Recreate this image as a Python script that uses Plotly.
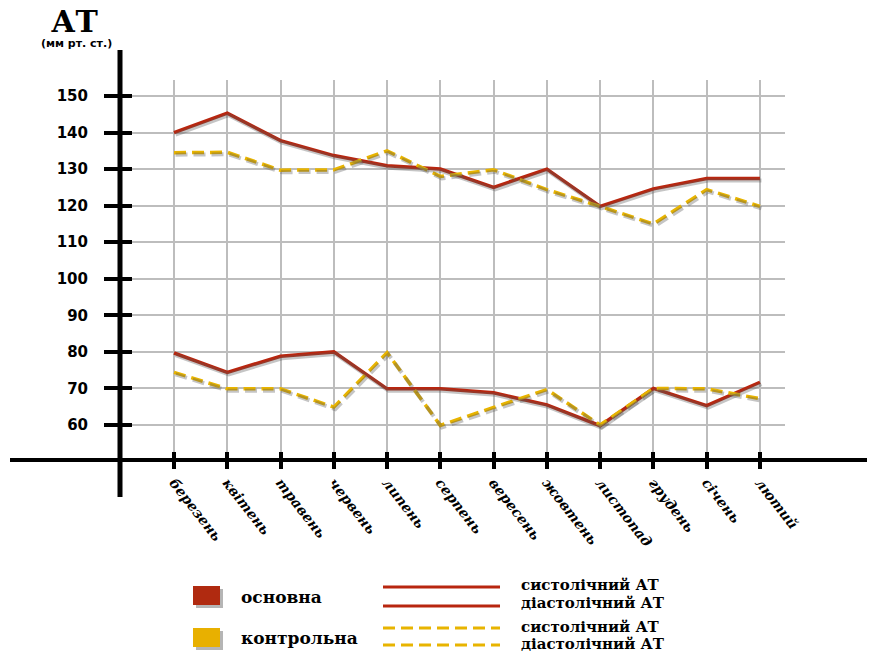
import plotly.graph_objects as go

months = ["березень", "квітень", "травень", "червень", "липень", "серпень",
          "вересень", "жовтень", "листопад", "грудень", "січень", "лютий"]
sys_main = [140, 145.3, 137.8, 133.7, 130.9, 130, 125, 130, 119.8, 124.6, 127.4, 127.4]
sys_ctrl = [134.5, 134.6, 129.7, 129.8, 135, 128, 129.8, 124.4, 119.8, 115, 124.4, 119.8]
dia_main = [79.7, 74.4, 78.8, 80, 69.9, 69.9, 68.8, 65.5, 59.8, 70, 65.3, 71.7]
dia_ctrl = [74.4, 69.9, 69.9, 64.9, 79.8, 59.9, 64.8, 69.7, 60, 70, 69.9, 67.2]
y_ticks = [60, 70, 80, 90, 100, 110, 120, 130, 140, 150]

RED = "#B8260F"
YEL = "#E8B400"
SERIF = "DejaVu Serif"

OFF = 8  # page body margin
W, H = 875 - OFF, 653 - OFF
L, R, T = 120 - OFF, 90, 80 - OFF
B = H - (460 - OFF)
PW, PH = W - L - R, H - T - B


def px(x):
    return (x - 120) / PW


def py(y):
    return (460 - y) / PH


XR = [-1.014, 11.47]
YR = [50.43, 154.37]
# shadow axes: shifted ~1.5 px right and ~2 px down
XR_SH = [XR[0] - 0.028, XR[1] - 0.028]
YR_SH = [YR[0] + 0.55, YR[1] + 0.55]

series = [(sys_main, RED, "solid"), (dia_main, RED, "solid"),
          (sys_ctrl, YEL, "12px,6px"), (dia_ctrl, YEL, "12px,6px")]

fig = go.Figure()
for vals, col, dash in series:
    fig.add_trace(go.Scatter(x=list(range(len(months))), y=vals, mode="lines",
                             xaxis="x3", yaxis="y3",
                             line=dict(color="rgba(90,90,90,0.35)", width=4, dash=dash),
                             showlegend=False, hoverinfo="skip"))
for vals, col, dash in series:
    fig.add_trace(go.Scatter(x=months, y=vals, mode="lines",
                             line=dict(color=col, width=3.5, dash=dash),
                             showlegend=False, hoverinfo="skip"))
fig.add_trace(go.Scatter(x=[], y=[], xaxis="x2", yaxis="y2", showlegend=False))

hidden = dict(showticklabels=False, showgrid=False, zeroline=False, showline=False, ticks="")

fig.update_layout(
    width=W, height=H,
    margin=dict(l=L, r=R, t=T, b=B),
    paper_bgcolor="white", plot_bgcolor="white",
    showlegend=False,
    xaxis=dict(type="category", categoryarray=months, range=XR,
               showgrid=True, gridcolor="#BDBDBD", gridwidth=1.5,
               ticks="outside", ticklen=8, tickwidth=4, tickcolor="black",
               showline=False, zeroline=False, tickangle=52,
               tickfont=dict(family=SERIF, size=14, color="black",
                             weight="bold", style="italic")),
    xaxis2=dict(overlaying="x", anchor="y2", range=XR, type="linear",
                tickmode="array", tickvals=list(range(len(months))),
                ticks="inside", ticklen=8, tickwidth=4, tickcolor="black",
                showticklabels=False, showgrid=False, zeroline=False, showline=False),
    xaxis3=dict(overlaying="x", anchor="y3", range=XR_SH, type="linear", **hidden),
    yaxis=dict(range=YR, tickmode="array", tickvals=y_ticks,
               showgrid=True, gridcolor="#BDBDBD", gridwidth=1.5,
               ticks="outside", ticklen=15, tickwidth=4, tickcolor="black",
               showline=False, zeroline=False, ticklabelstandoff=13,
               tickfont=dict(family="DejaVu Sans", size=15, color="black", weight="bold")),
    yaxis2=dict(overlaying="y", anchor="x2", range=YR, tickmode="array", tickvals=y_ticks,
                ticks="inside", ticklen=12, tickwidth=4, tickcolor="black",
                showticklabels=False, showgrid=False, zeroline=False, showline=False),
    yaxis3=dict(overlaying="y", anchor="x3", range=YR_SH, **hidden),
)

shapes = [
    dict(type="line", xref="paper", yref="paper", x0=0, x1=0, y0=py(497), y1=py(50),
         line=dict(color="black", width=5)),
    dict(type="line", xref="paper", yref="paper", x0=px(10), x1=px(875), y0=0, y1=0,
         line=dict(color="black", width=4)),
    # legend boxes (shadow + box)
    dict(type="rect", xref="paper", yref="paper", x0=px(196), x1=px(223), y0=py(608), y1=py(589),
         line=dict(width=0), fillcolor="rgba(90,90,90,0.45)"),
    dict(type="rect", xref="paper", yref="paper", x0=px(193), x1=px(220), y0=py(605), y1=py(586),
         line=dict(width=0), fillcolor="#B02A10"),
    dict(type="rect", xref="paper", yref="paper", x0=px(196), x1=px(223), y0=py(650), y1=py(631),
         line=dict(width=0), fillcolor="rgba(90,90,90,0.45)"),
    dict(type="rect", xref="paper", yref="paper", x0=px(193), x1=px(220), y0=py(647), y1=py(628),
         line=dict(width=0), fillcolor="#E8B000"),
]
for yy, col, dash in [(587, RED, "solid"), (606, RED, "solid"),
                      (628, YEL, "12px,6px"), (645, YEL, "12px,6px")]:
    shapes.append(dict(type="line", xref="paper", yref="paper", x0=px(383), x1=px(500),
                       y0=py(yy), y1=py(yy), line=dict(color=col, width=3, dash=dash)))
fig.update_layout(shapes=shapes)

ann = [
    dict(text="АТ", x=px(74), y=py(22), yanchor="middle",
         font=dict(family=SERIF, size=30, color="black", weight="bold")),
    dict(text="(мм рт. ст.)", x=px(76), y=py(36), yanchor="top",
         font=dict(family="DejaVu Sans", size=11, color="black", weight="bold")),
]
for a in ann:
    a.update(xref="paper", yref="paper", showarrow=False, xanchor="center",
             borderpad=0)

for txt, yy in [("основна", 597), ("контрольна", 638)]:
    ann.append(dict(text=txt, x=px(239), y=py(yy), xref="paper", yref="paper", showarrow=False,
                    xanchor="left", yanchor="middle",
                    font=dict(family=SERIF, size=17, color="black", weight="bold")))
for txt, yy in [("систолічний АТ", 585), ("діастолічний АТ", 603),
                ("систолічний АТ", 627), ("діастолічний АТ", 644)]:
    ann.append(dict(text=txt, x=px(519), y=py(yy), xref="paper", yref="paper", showarrow=False,
                    xanchor="left", yanchor="middle",
                    font=dict(family=SERIF, size=15, color="black", weight="bold")))
fig.update_layout(annotations=ann)

fig.write_html("out.html")
